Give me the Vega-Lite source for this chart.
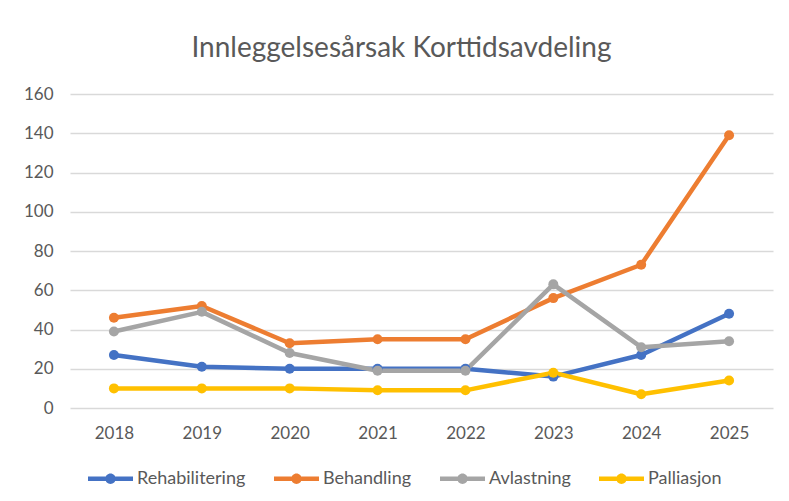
{
  "$schema": "https://vega.github.io/schema/vega-lite/v6.json",
  "width": 703,
  "height": 314,
  "autosize": {"type": "none"},
  "padding": {"left": 70, "top": 94, "right": 16, "bottom": 93},
  "background": "white",
  "title": {
    "text": "Innleggelsesårsak Korttidsavdeling",
    "font": "Lato",
    "fontSize": 28,
    "fontWeight": "normal",
    "color": "#595959",
    "anchor": "middle",
    "dx": -20,
    "offset": 22
  },
  "data": {
    "values": [
      {"year": "2018", "series": "Rehabilitering", "value": 27},
      {"year": "2019", "series": "Rehabilitering", "value": 21},
      {"year": "2020", "series": "Rehabilitering", "value": 20},
      {"year": "2021", "series": "Rehabilitering", "value": 20},
      {"year": "2022", "series": "Rehabilitering", "value": 20},
      {"year": "2023", "series": "Rehabilitering", "value": 16},
      {"year": "2024", "series": "Rehabilitering", "value": 27},
      {"year": "2025", "series": "Rehabilitering", "value": 48},
      {"year": "2018", "series": "Behandling", "value": 46},
      {"year": "2019", "series": "Behandling", "value": 52},
      {"year": "2020", "series": "Behandling", "value": 33},
      {"year": "2021", "series": "Behandling", "value": 35},
      {"year": "2022", "series": "Behandling", "value": 35},
      {"year": "2023", "series": "Behandling", "value": 56},
      {"year": "2024", "series": "Behandling", "value": 73},
      {"year": "2025", "series": "Behandling", "value": 139},
      {"year": "2018", "series": "Avlastning", "value": 39},
      {"year": "2019", "series": "Avlastning", "value": 49},
      {"year": "2020", "series": "Avlastning", "value": 28},
      {"year": "2021", "series": "Avlastning", "value": 19},
      {"year": "2022", "series": "Avlastning", "value": 19},
      {"year": "2023", "series": "Avlastning", "value": 63},
      {"year": "2024", "series": "Avlastning", "value": 31},
      {"year": "2025", "series": "Avlastning", "value": 34},
      {"year": "2018", "series": "Palliasjon", "value": 10},
      {"year": "2019", "series": "Palliasjon", "value": 10},
      {"year": "2020", "series": "Palliasjon", "value": 10},
      {"year": "2021", "series": "Palliasjon", "value": 9},
      {"year": "2022", "series": "Palliasjon", "value": 9},
      {"year": "2023", "series": "Palliasjon", "value": 18},
      {"year": "2024", "series": "Palliasjon", "value": 7},
      {"year": "2025", "series": "Palliasjon", "value": 14}
    ]
  },
  "encoding": {
    "x": {
      "field": "year",
      "type": "ordinal",
      "scale": {"type": "point", "padding": 0.5},
      "axis": {
        "title": null,
        "labelAngle": 0,
        "domain": false,
        "ticks": false,
        "grid": false,
        "labelFont": "Lato",
        "labelFontSize": 17,
        "labelColor": "#595959",
        "labelPadding": 17
      }
    },
    "y": {
      "field": "value",
      "type": "quantitative",
      "scale": {"domain": [0, 160]},
      "axis": {
        "title": null,
        "values": [0, 20, 40, 60, 80, 100, 120, 140, 160],
        "domain": false,
        "ticks": false,
        "gridColor": "#d9d9d9",
        "gridWidth": 1.5,
        "labelFont": "Lato",
        "labelFontSize": 17,
        "labelColor": "#595959",
        "labelPadding": 17
      }
    },
    "color": {
      "field": "series",
      "type": "nominal",
      "scale": {
        "domain": ["Rehabilitering", "Behandling", "Avlastning", "Palliasjon"],
        "range": ["#4472C4", "#ED7D31", "#A5A5A5", "#FFC000"]
      },
      "legend": {
        "title": null,
        "orient": "none",
        "direction": "horizontal",
        "legendX": 18,
        "legendY": 362,
        "symbolType": "M-1,-0.1L1,-0.1L1,0.1L-1,0.1Z M-0.23,0A0.23,0.23 0 1,1 0.23,0A0.23,0.23 0 1,1 -0.23,0Z",
        "symbolSize": 2025,
        "symbolStrokeWidth": 0,
        "labelFont": "Lato",
        "labelFontSize": 18,
        "labelColor": "#595959",
        "labelOffset": 4,
        "columnPadding": 28,
        "encode": {
          "symbols": {
            "update": {
              "fill": {"scale": "color", "field": "value"},
              "stroke": {"value": "transparent"}
            }
          }
        }
      }
    }
  },
  "layer": [
    {
      "mark": {"type": "line", "strokeWidth": 4.5, "strokeCap": "round", "strokeJoin": "round"}
    },
    {
      "mark": {"type": "point", "filled": true, "opacity": 1, "size": 100}
    }
  ],
  "config": {
    "view": {"stroke": null}
  }
}
